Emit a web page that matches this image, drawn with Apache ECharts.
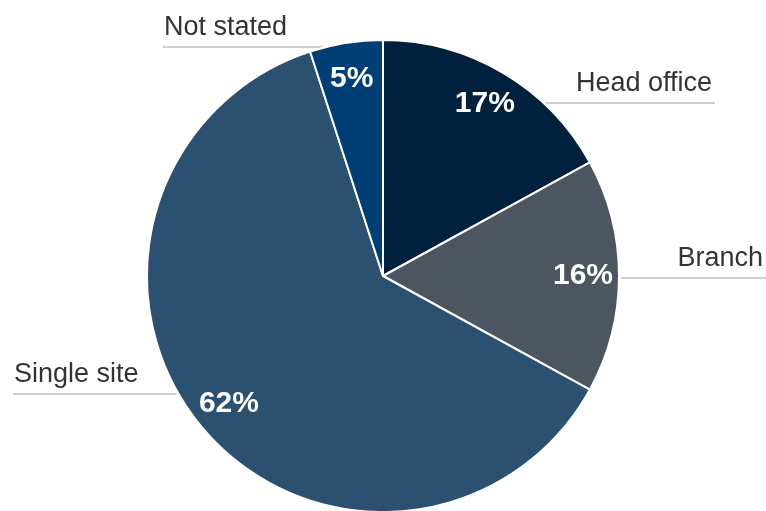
<!DOCTYPE html>
<html>
<head>
<meta charset="utf-8">
<script src="https://cdn.jsdelivr.net/npm/echarts@6/dist/echarts.min.js"></script>
<style>
  html, body { margin: 0; padding: 0; background: #fff; }
  #chart { width: 766px; height: 511px; }
</style>
</head>
<body>
<div id="chart"></div>
<script>
const categories = ['Head office', 'Branch', 'Single site', 'Not stated']
const shares = [17, 16, 62, 5]
const colors = ['#01203d', '#4d5561', '#2b5070', '#013e74']

// pie geometry and where the name labels sit (line height, outer end of line)
const cx = 383, cy = 276, r = 236
const lineY = [103, 278, 394, 47]
const lineEnd = [715, 766, 13, 163]

const chart = echarts.init(document.getElementById('chart'))
const font = "'Liberation Sans', Arial, Helvetica, sans-serif"

const data = categories.map((name, i) => ({
  name,
  value: shares[i],
  itemStyle: { color: colors[i] }
}))

chart.setOption({
  animation: false,
  series: [
    {
      type: 'pie',
      center: [cx, cy],
      radius: r,
      startAngle: 90,
      clockwise: true,
      avoidLabelOverlap: false,
      silent: true,
      itemStyle: { borderColor: '#fff', borderWidth: 2 },
      label: {
        show: true,
        position: 'outside',
        formatter: '{b}',
        color: '#333',
        fontFamily: font,
        fontSize: 27
      },
      labelLine: {
        show: true,
        length: 10,
        length2: 20,
        lineStyle: { color: '#a0a0a0', width: 1.2 }
      },
      labelLayout: (params) => {
        const i = params.dataIndex
        const y = lineY[i]
        const dx = Math.sqrt(Math.max(r * r - (y - cy) * (y - cy), 0))
        const right = lineEnd[i] > cx
        const edge = right ? cx + dx + 2 : cx - dx - 2
        return {
          x: right ? lineEnd[i] - 3 : lineEnd[i] + 1,
          y: y - 19,
          align: right ? 'right' : 'left',
          verticalAlign: 'middle',
          labelLinePoints: [[edge, y], [edge, y], [lineEnd[i], y]]
        }
      },
      data
    },
    {
      // transparent ring, only used to place the percentage labels
      type: 'pie',
      center: [cx, cy],
      radius: [158, r],
      startAngle: 90,
      clockwise: true,
      silent: true,
      itemStyle: { color: 'transparent', borderWidth: 0 },
      label: {
        show: true,
        position: 'inside',
        formatter: (p) => p.value + '%',
        color: '#fff',
        fontFamily: font,
        fontWeight: 'bold',
        fontSize: 30
      },
      labelLine: { show: false },
      data: categories.map((name, i) => ({ name, value: shares[i] }))
    }
  ]
})
</script>
</body>
</html>
